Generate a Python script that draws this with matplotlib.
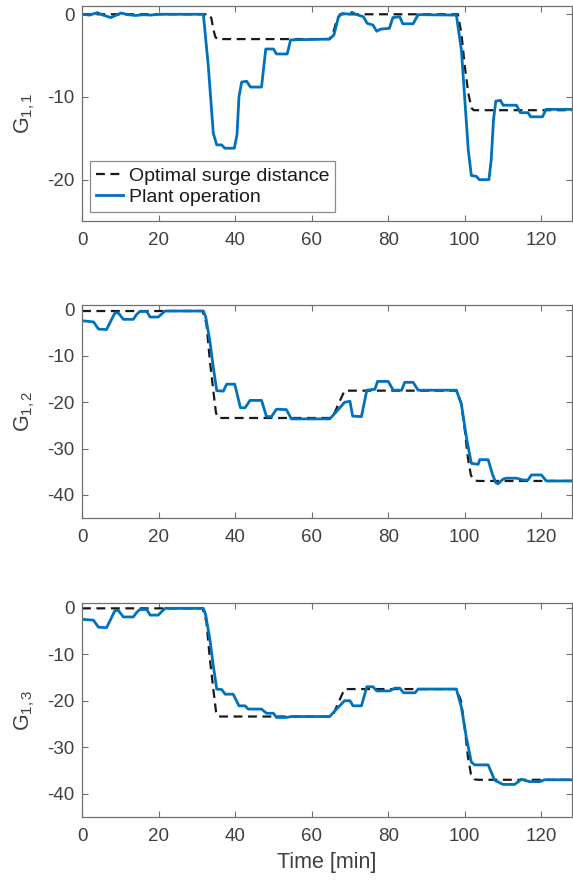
import numpy as np
import matplotlib
matplotlib.use('Agg')
import matplotlib.pyplot as plt

plt.rcParams['font.family'] = ['Liberation Sans', 'DejaVu Sans']
plt.rcParams['mathtext.fontset'] = 'custom'
plt.rcParams['mathtext.rm'] = 'Liberation Sans'
plt.rcParams['mathtext.it'] = 'Liberation Sans:italic'
plt.rcParams['axes.unicode_minus'] = False

# optimal surge distance (dashed)
t_opt1 = [0, 33.3, 33.8, 34.3, 34.8, 35.3, 64.6, 65.5, 66.5, 67.4,
          98.2, 99.1, 100.0, 100.9, 101.7, 102.3, 128]
g11_opt = [0, 0, -0.5, -1.8, -2.7, -3.0, -3.0, -2.4, -0.8, 0,
           0, -2.3, -6.3, -9.5, -11.3, -11.6, -11.6]

t_opt23 = [0, 31.5, 32.5, 33.4, 34.3, 35.0, 35.6, 64.8, 65.8, 67.8, 68.6,
           97.8, 99.0, 100.0, 100.8, 101.6, 102.5, 103.5, 128]
g12_opt = [-0.3, -0.3, -3, -11, -17.5, -22.3, -23.4, -23.4, -22.6, -18.9, -17.5,
           -17.5, -20, -26, -32, -35.8, -36.9, -37.0, -37.0]
g13_opt = [-0.15, -0.15, -3, -11, -17.5, -22.3, -23.4, -23.4, -22.6, -18.9, -17.5,
           -17.5, -20, -26, -32, -35.8, -36.9, -37.0, -37.0]

# plant operation (blue)
t_p1 = [0, 2, 4, 5.5, 7.5, 9, 10.2, 12, 14, 16, 18, 20, 31.7, 33.0, 34.3, 35.2,
        36.5, 37.3, 39.8, 40.5, 41.0, 41.7, 43.0, 44.0, 46.9, 48.0, 50.0, 50.8,
        53.6, 54.5, 64.7, 65.8, 67.0, 68.0, 70.0, 70.5, 71.5, 73.5, 74.5, 76.0,
        77.0, 78.0, 80.3, 81.2, 83.0, 83.8, 86.5, 87.8, 97.8, 99.1, 100.0, 100.9,
        101.7, 103.0, 103.8, 106.3, 106.9, 107.5, 108.1, 109.3, 110.0, 113.5,
        114.5, 116.5, 117.2, 120.3, 121.2, 128]
g11_p = [0, -0.1, 0.2, -0.1, -0.4, -0.1, 0.15, -0.05, -0.15, -0.05, -0.1, 0, 0,
         -6.3, -14.4, -15.8, -15.8, -16.2, -16.2, -14.5, -10, -8.2, -8.1, -8.8,
         -8.8, -4.2, -4.2, -4.8, -4.8, -3.1, -3.0, -2.5, -0.3, 0.1, 0, 0.25, 0,
         -0.3, -1.1, -1.3, -2.05, -1.8, -1.7, -0.4, -0.3, -1.15, -1.15, -0.05,
         -0.1, -4.3, -10.3, -16.4, -19.5, -19.6, -20.0, -20.0, -17.6, -12.7,
         -10.5, -10.4, -11.0, -11.0, -11.9, -11.9, -12.4, -12.4, -11.5, -11.5]

t_p2 = [0, 3.0, 4.3, 6.4, 7.5, 8.6, 9.5, 10.8, 13.4, 14.3, 15.1, 16.9, 17.8,
        19.9, 21.7, 31.7, 32.3, 33.4, 34.3, 35.2, 36.9, 37.8, 39.9, 40.6, 41.4,
        42.6, 43.9, 46.9, 48.2, 49.5, 50.8, 53.4, 54.7, 64.7, 66.5, 68.6, 70.0,
        70.7, 73.0, 74.4, 76.5, 77.2, 80.0, 81.3, 83.5, 84.3, 86.5, 87.8, 97.8,
        99.1, 100.4, 101.7, 103.5, 103.9, 106.1, 107.2, 108.1, 108.7, 110.0,
        110.9, 113.5, 115.2, 116.5, 117.4, 120.0, 121.3, 128]
g12_p = [-2.4, -2.65, -4.2, -4.3, -2.5, -0.7, -0.7, -2.1, -2.1, -1.0, -0.4, -0.4,
         -1.6, -1.6, -0.3, -0.3, -1.5, -6.8, -12.5, -17.5, -17.6, -16.1, -16.1,
         -18.5, -21.2, -21.2, -19.6, -19.6, -23.1, -23.1, -21.5, -21.6, -23.6,
         -23.6, -22.0, -20.0, -19.8, -23.0, -23.1, -17.4, -17.2, -15.5, -15.5,
         -17.4, -17.4, -15.7, -15.7, -17.4, -17.4, -20.4, -27.5, -33.2, -33.4,
         -32.4, -32.4, -35.5, -37.4, -37.6, -36.6, -36.4, -36.4, -36.8, -36.8,
         -35.7, -35.7, -37.0, -37.0]

t_p3 = [0, 3.0, 4.3, 6.4, 7.5, 8.6, 9.5, 10.8, 13.4, 14.3, 15.1, 16.9, 17.8,
        19.9, 21.7, 31.7, 32.3, 33.4, 34.3, 35.2, 36.5, 37.4, 39.5, 41.0, 42.6,
        43.4, 46.9, 48.2, 50.0, 50.8, 53.4, 54.7, 64.7, 66.5, 68.6, 70.0, 70.8,
        73.0, 74.4, 76.0, 77.0, 80.4, 81.7, 83.0, 84.0, 87.0, 87.8, 97.8, 99.1,
        100.4, 101.7, 102.6, 106.1, 107.8, 110.0, 113.0, 114.8, 116.0, 117.0,
        119.6, 120.8, 128]
g13_p = [-2.5, -2.7, -4.2, -4.3, -2.5, -0.6, -0.6, -2.0, -2.0, -1.0, -0.4, -0.4,
         -1.6, -1.6, -0.15, -0.15, -1.5, -6.8, -12.5, -17.5, -17.6, -18.6, -18.6,
         -21.1, -21.1, -21.8, -21.8, -22.7, -22.7, -23.6, -23.6, -23.4, -23.4,
         -21.8, -20.0, -20.0, -21.1, -21.1, -17.0, -17.0, -17.9, -17.9, -17.3,
         -17.3, -18.3, -18.3, -17.5, -17.5, -21.4, -27.9, -33.2, -33.8, -33.8,
         -37.1, -38.0, -38.0, -36.9, -37.2, -37.4, -37.4, -37.0, -37.0]

ylabels = ['G$_{1,1}$', 'G$_{1,2}$', 'G$_{1,3}$']
ylims = [(-25, 1), (-45, 1), (-45, 1)]
yticks = [[-20, -10, 0], [-40, -30, -20, -10, 0], [-40, -30, -20, -10, 0]]
xticks = [0, 20, 40, 60, 80, 100, 120]

series = [(t_opt1, g11_opt, t_p1, g11_p),
          (t_opt23, g12_opt, t_p2, g12_p),
          (t_opt23, g13_opt, t_p3, g13_p)]

W, H = 573, 882
fig = plt.figure(figsize=(W / 100, H / 100), dpi=100)
# axes boxes in pixels: (left, top, right, bottom)
boxes = [(82, 6, 572, 221), (82, 305, 572, 518), (82, 603, 572, 817)]

txt = '#404040'
edge = '#707070'
blue = '#0072BD'
for i, (to, go, tp, gp) in enumerate(series):
    l, t, r, b = boxes[i]
    ax = fig.add_axes([l / W, 1 - b / H, (r - l) / W, (b - t) / H])
    ax.plot(to, go, color='#1a1a1a', lw=1.6, ls=(0, (4, 2.5)),
            label='Optimal surge distance')
    ax.plot(tp, gp, color=blue, lw=2.0, label='Plant operation')
    ax.set_xlim(0, 128)
    ax.set_ylim(*ylims[i])
    ax.set_xticks(xticks)
    ax.set_yticks(yticks[i])
    ax.tick_params(direction='in', top=True, right=True, length=4.5, width=0.8,
                   colors=edge, labelsize=13.5, labelcolor=txt)
    ax.tick_params(axis='x', pad=8)
    ax.tick_params(axis='y', pad=5.5)
    for s in ax.spines.values():
        s.set_color(edge)
        s.set_linewidth(0.9)
    ax.set_ylabel(ylabels[i], fontsize=15.5, color=txt, labelpad=7)
    if i == 0:
        leg = ax.legend(loc='lower left', bbox_to_anchor=(0.016, 0.042),
                        fontsize=14, handlelength=1.4, handletextpad=0.3,
                        borderpad=0.3, labelspacing=0.2, fancybox=False,
                        borderaxespad=0)
        leg.get_frame().set_edgecolor(edge)
        leg.get_frame().set_linewidth(0.9)
        for txt_item in leg.get_texts():
            txt_item.set_color('#1a1a1a')
    if i == 2:
        ax.set_xlabel('Time [min]', fontsize=15.5, color=txt, labelpad=5)

fig.savefig('out.png', dpi=100)
